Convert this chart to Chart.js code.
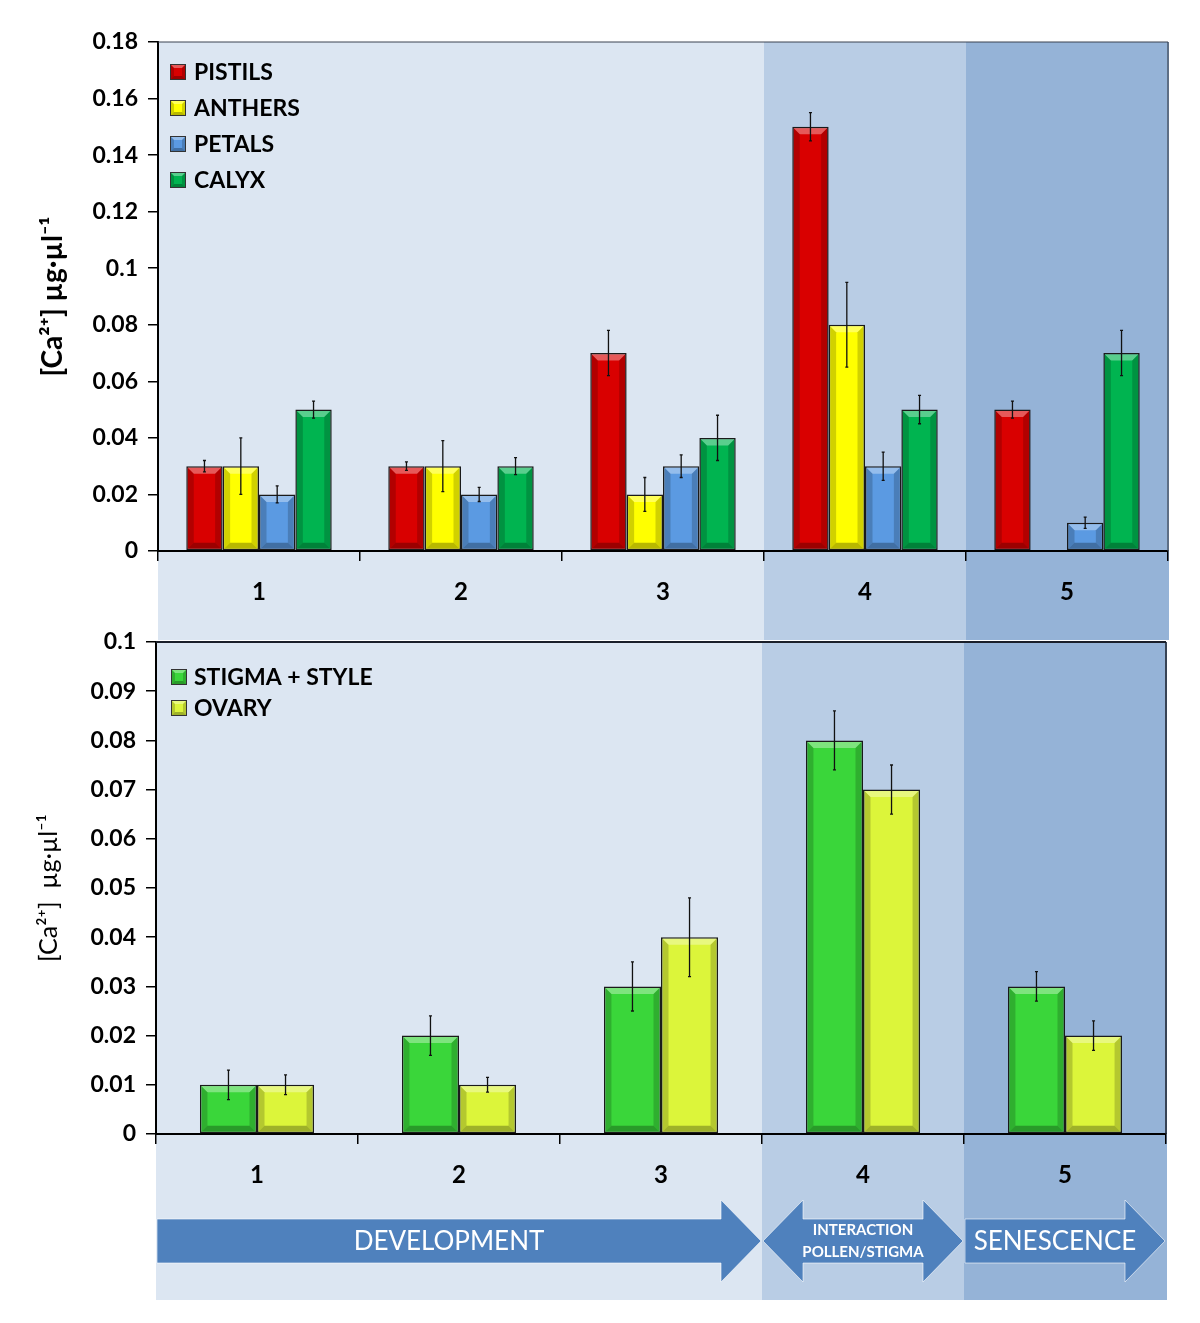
<!DOCTYPE html>
<html>
<head>
<meta charset="utf-8">
<script src="https://cdn.jsdelivr.net/npm/chart.js@4.4.1/dist/chart.umd.min.js"></script>
<style>
  body { margin: 0; background: #fff; width: 1200px; height: 1323px; position: relative; overflow: hidden; }
  #grafTop { position: absolute; left: 0; top: 0; }
  #grafBottom { position: absolute; left: 0; top: 600px; }
</style>
</head>
<body>
<canvas id="grafTop" width="1200" height="645"></canvas>
<canvas id="grafBottom" width="1200" height="723"></canvas>
<script>
// data
const stages = ["1", "2", "3", "4", "5"];

const pistils = [0.03, 0.03, 0.07, 0.15, 0.05];
const pistilsErr = [0.002, 0.0015, 0.008, 0.005, 0.003];
const anthers = [0.03, 0.03, 0.02, 0.08, null];
const anthersErr = [0.01, 0.009, 0.006, 0.015, 0];
const petals = [0.02, 0.02, 0.03, 0.03, 0.01];
const petalsErr = [0.003, 0.0025, 0.004, 0.005, 0.002];
const calyx = [0.05, 0.03, 0.04, 0.05, 0.07];
const calyxErr = [0.003, 0.003, 0.008, 0.005, 0.008];

const stigmaStyle = [0.01, 0.02, 0.03, 0.08, 0.03];
const stigmaStyleErr = [0.003, 0.004, 0.005, 0.006, 0.003];
const ovary = [0.01, 0.01, 0.04, 0.07, 0.02];
const ovaryErr = [0.002, 0.0015, 0.008, 0.005, 0.003];

const topTicks = { min: 0, max: 0.18, step: 0.02 };
const bottomTicks = { min: 0, max: 0.1, step: 0.01 };

const phaseLabels = ["DEVELOPMENT", "INTERACTION\nPOLLEN/STIGMA", "SENESCENCE"];
const phaseFrom = [0, 3, 4];
const phaseTo = [2, 3, 4];

const FONT = "Lato, 'Open Sans', sans-serif";
const bandColors = ["#dce6f2", "#dce6f2", "#dce6f2", "#b9cde5", "#95b3d7"];

// background bands per stage + plot frame
const bandas = {
  id: "bands",
  beforeDraw(chart, args, opts) {
    const { ctx, chartArea, scales: { x } } = chart;
    const n = chart.data.labels.length;
    const w = (chartArea.right - chartArea.left) / n;
    ctx.save();
    for (let i = 0; i < n; i++) {
      const cx = x.getPixelForValue(i);
      ctx.fillStyle = opts.colors[i];
      ctx.fillRect(Math.round(cx - w / 2), chartArea.top, Math.ceil(w) + 1, opts.bottom - chartArea.top);
    }
    ctx.restore();
  },
  afterDraw(chart, args, opts) {
    const { ctx, chartArea } = chart;
    ctx.save();
    ctx.strokeStyle = opts.frameColor;
    ctx.lineWidth = opts.topWidth;
    ctx.beginPath();
    ctx.moveTo(chartArea.left, chartArea.top);
    ctx.lineTo(chartArea.right, chartArea.top);
    ctx.stroke();
    ctx.lineWidth = opts.rightWidth;
    ctx.beginPath();
    ctx.moveTo(chartArea.right, chartArea.top);
    ctx.lineTo(chartArea.right, chartArea.bottom);
    ctx.stroke();
    ctx.restore();
  }
};

// soft bevel on each bar
function bevel(ctx, l, t, r, b) {
  const h = b - t, d = Math.min(6, h / 3, (r - l) / 4);
  if (h < 2) return;
  ctx.fillStyle = "rgba(255,255,255,0.35)";
  ctx.beginPath();
  ctx.moveTo(l, t); ctx.lineTo(r, t); ctx.lineTo(r - d, t + d); ctx.lineTo(l + d, t + d); ctx.closePath();
  ctx.fill();
  ctx.fillStyle = "rgba(0,0,0,0.18)";
  ctx.beginPath();
  ctx.moveTo(l, t); ctx.lineTo(l + d, t + d); ctx.lineTo(l + d, b - d); ctx.lineTo(l, b); ctx.closePath();
  ctx.fill();
  ctx.beginPath();
  ctx.moveTo(r, t); ctx.lineTo(r - d, t + d); ctx.lineTo(r - d, b - d); ctx.lineTo(r, b); ctx.closePath();
  ctx.fill();
  ctx.fillStyle = "rgba(0,0,0,0.28)";
  ctx.beginPath();
  ctx.moveTo(l, b); ctx.lineTo(l + d, b - d); ctx.lineTo(r - d, b - d); ctx.lineTo(r, b); ctx.closePath();
  ctx.fill();
}

const relieve = {
  id: "bevel",
  afterDatasetsDraw(chart) {
    const ctx = chart.ctx;
    ctx.save();
    chart.data.datasets.forEach((ds, di) => {
      chart.getDatasetMeta(di).data.forEach((bar, i) => {
        if (ds.data[i] == null) return;
        const l = bar.x - bar.width / 2 + 1.5, r = bar.x + bar.width / 2 - 1.5;
        const t = Math.min(bar.y, bar.base) + 1.5, b = Math.max(bar.y, bar.base) - 1.5;
        bevel(ctx, l, t, r, b);
      });
    });
    ctx.restore();
  }
};

const barrasError = {
  id: "errorBars",
  afterDatasetsDraw(chart) {
    const { ctx, scales: { y } } = chart;
    ctx.save();
    ctx.strokeStyle = "#111";
    ctx.lineWidth = 1.3;
    chart.data.datasets.forEach((ds, di) => {
      chart.getDatasetMeta(di).data.forEach((bar, i) => {
        const v = ds.data[i], e = ds.errors[i];
        if (v == null || !e) return;
        const y0 = y.getPixelForValue(v + e), y1 = y.getPixelForValue(v - e);
        ctx.beginPath();
        ctx.moveTo(bar.x, y0); ctx.lineTo(bar.x, y1);
        ctx.moveTo(bar.x - 1.5, y0); ctx.lineTo(bar.x + 1.5, y0);
        ctx.moveTo(bar.x - 1.5, y1); ctx.lineTo(bar.x + 1.5, y1);
        ctx.stroke();
      });
    });
    ctx.restore();
  }
};

const leyenda = {
  id: "boxLegend",
  afterDraw(chart, args, opts) {
    const { ctx, chartArea } = chart;
    ctx.save();
    ctx.font = "bold 23px " + FONT;
    ctx.textBaseline = "middle";
    chart.data.datasets.forEach((ds, i) => {
      const cy = chartArea.top + opts.top + i * opts.spacing;
      const bx = chartArea.left + opts.left;
      ctx.fillStyle = ds.backgroundColor;
      ctx.fillRect(bx, cy - 8, 16, 16);
      bevel(ctx, bx, cy - 8, bx + 16, cy + 8);
      ctx.strokeStyle = "#333";
      ctx.lineWidth = 1;
      ctx.strokeRect(bx + 0.5, cy - 7.5, 15, 15);
      ctx.fillStyle = "#000";
      ctx.fillText(ds.label, bx + opts.textGap, cy + 1);
    });
    ctx.restore();
  }
};

function drawArrow(ctx, x0, x1, yc, leftHead) {
  const bh = 22, hh = 41, hl = 40;
  ctx.beginPath();
  if (leftHead) {
    ctx.moveTo(x0, yc);
    ctx.lineTo(x0 + hl, yc - hh);
    ctx.lineTo(x0 + hl, yc - bh);
  } else {
    ctx.moveTo(x0, yc - bh);
  }
  ctx.lineTo(x1 - hl, yc - bh);
  ctx.lineTo(x1 - hl, yc - hh);
  ctx.lineTo(x1, yc);
  ctx.lineTo(x1 - hl, yc + hh);
  ctx.lineTo(x1 - hl, yc + bh);
  if (leftHead) {
    ctx.lineTo(x0 + hl, yc + bh);
    ctx.lineTo(x0 + hl, yc + hh);
  } else {
    ctx.lineTo(x0, yc + bh);
  }
  ctx.closePath();
  ctx.fillStyle = "#4f81bd";
  ctx.fill();
  ctx.strokeStyle = "rgba(255,255,255,0.6)";
  ctx.lineWidth = 1;
  ctx.stroke();
}

const flechas = {
  id: "phases",
  afterDraw(chart, args, opts) {
    const { ctx, chartArea, scales: { x } } = chart;
    const w = (chartArea.right - chartArea.left) / chart.data.labels.length;
    ctx.save();
    phaseLabels.forEach((lab, k) => {
      const x0 = x.getPixelForValue(phaseFrom[k]) - w / 2;
      const x1 = x.getPixelForValue(phaseTo[k]) + w / 2;
      const both = k === 1;
      drawArrow(ctx, x0 + 1, x1 - 1, opts.y, both);
      ctx.fillStyle = "#fff";
      ctx.textAlign = "center";
      ctx.textBaseline = "middle";
      const lines = lab.split("\n");
      if (lines.length > 1) {
        ctx.font = "bold 15px " + FONT;
        lines.forEach((ln, j) => ctx.fillText(ln, (x0 + x1) / 2, opts.y - 11 + j * 22));
      } else {
        ctx.font = "26px " + FONT;
        ctx.fillText(lab, (x0 + x1 - 20) / 2, opts.y + 1);
      }
    });
    ctx.restore();
  }
};

const fmt = v => String(+(+v).toFixed(2));

function axisX() {
  return {
    grid: { offset: true, drawOnChartArea: false, drawTicks: true, tickLength: 10, color: "#000", lineWidth: 1.5 },
    border: { color: "#000", width: 2 },
    ticks: { color: "#000", padding: 17, font: { family: FONT, size: 24, weight: "bold" } }
  };
}

function axisY(rng, title, titleWeight, titleSize, titlePad, width) {
  return {
    min: rng.min,
    max: rng.max,
    grid: { drawOnChartArea: false, tickLength: 10, color: "#000", lineWidth: 1.5 },
    border: { color: "#000", width: 2 },
    ticks: { stepSize: rng.step, color: "#000", padding: 10, font: { family: FONT, size: 23, weight: "bold" }, callback: fmt },
    title: { display: true, text: title, color: "#000", padding: { top: titlePad, bottom: 0 }, font: { family: FONT, size: titleSize, weight: titleWeight } },
    afterFit(s) { s.width = width; }
  };
}

const commonBar = { borderColor: "#1a1a1a", borderWidth: 1.5, borderSkipped: false, barPercentage: 1.0 };

new Chart(document.getElementById("grafTop"), {
  type: "bar",
  data: {
    labels: stages,
    datasets: [
      { ...commonBar, label: "PISTILS", data: pistils, errors: pistilsErr, backgroundColor: "#d90000", categoryPercentage: 0.72 },
      { ...commonBar, label: "ANTHERS", data: anthers, errors: anthersErr, backgroundColor: "#ffff00", categoryPercentage: 0.72 },
      { ...commonBar, label: "PETALS", data: petals, errors: petalsErr, backgroundColor: "#5b9ae2", categoryPercentage: 0.72 },
      { ...commonBar, label: "CALYX", data: calyx, errors: calyxErr, backgroundColor: "#00b450", categoryPercentage: 0.72 }
    ]
  },
  options: {
    responsive: false,
    animation: false,
    layout: { padding: { top: 42, right: 32, left: 0, bottom: 0 } },
    scales: {
      x: { ...axisX(), afterFit(s) { s.height = 94; } },
      y: axisY(topTicks, "[Ca²⁺] µg·µl⁻¹", "bold", 28, 36, 158)
    },
    plugins: {
      legend: { display: false },
      tooltip: { enabled: false },
      bands: { colors: bandColors, bottom: 640, frameColor: "#3a4250", topWidth: 1, rightWidth: 1.2 },
      boxLegend: { top: 30, left: 12, spacing: 36, textGap: 24 }
    }
  },
  plugins: [bandas, relieve, barrasError, leyenda]
});

new Chart(document.getElementById("grafBottom"), {
  type: "bar",
  data: {
    labels: stages,
    datasets: [
      { ...commonBar, label: "STIGMA + STYLE", data: stigmaStyle, errors: stigmaStyleErr, backgroundColor: "#3ad63a", categoryPercentage: 0.565 },
      { ...commonBar, label: "OVARY", data: ovary, errors: ovaryErr, backgroundColor: "#dcf53a", categoryPercentage: 0.565 }
    ]
  },
  options: {
    responsive: false,
    animation: false,
    layout: { padding: { top: 42, right: 34, left: 0, bottom: 0 } },
    scales: {
      x: { ...axisX(), afterFit(s) { s.height = 189; } },
      y: axisY(bottomTicks, "[Ca²⁺]  µg·µl⁻¹", "normal", 25, 34, 156)
    },
    plugins: {
      legend: { display: false },
      tooltip: { enabled: false },
      bands: { colors: bandColors, bottom: 700, frameColor: "#1a1f2a", topWidth: 2.2, rightWidth: 1.5 },
      boxLegend: { top: 35, left: 15, spacing: 31, textGap: 23 },
      phases: { y: 641 }
    }
  },
  plugins: [bandas, relieve, barrasError, leyenda, flechas]
});
</script>
</body>
</html>
